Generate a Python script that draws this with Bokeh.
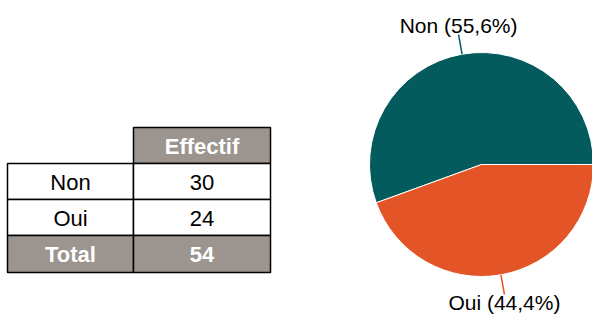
import math
from bokeh.plotting import figure
from bokeh.models import Range1d, ColumnDataSource
from bokeh.embed import file_html
from bokeh.resources import INLINE
from bokeh.core.properties import value

# ---- data ----
categories = ["Non", "Oui"]
counts = [30, 24]
header_label = "Effectif"
total_label = "Total"
slice_colors = ["#045B5D", "#E35427"]

total = sum(counts)
fractions = [c / total for c in counts]

# ---- figure (data units == screen pixels, y flipped) ----
W, H = 592, 315
def sy(s):
    return H - s

p = figure(width=W, height=H, output_backend="svg", toolbar_location=None,
           x_range=Range1d(0, W), y_range=Range1d(0, H),
           x_axis_type=None, y_axis_type=None, min_border=0)
p.grid.visible = False
p.outline_line_color = None
p.background_fill_color = "white"
p.border_fill_color = "white"

FONT = value("Liberation Sans")
GRAY = "#9C958F"

# ---- table ----
col_edges = [7, 133, 270]
row_h = 36
top0 = 127
lefts, rights, tops, bottoms, fills = [], [], [], [], []
lefts.append(col_edges[1]); rights.append(col_edges[2])
tops.append(sy(top0)); bottoms.append(sy(top0 + row_h)); fills.append(GRAY)
row_names = categories + [total_label]
row_vals = [str(c) for c in counts] + [str(total)]
for i, name in enumerate(row_names):
    t = top0 + row_h * (i + 1)
    b = t + row_h + (1 if i == len(row_names) - 1 else 0)
    fill = GRAY if name == total_label else "white"
    for j in range(2):
        lefts.append(col_edges[j]); rights.append(col_edges[j + 1])
        tops.append(sy(t)); bottoms.append(sy(b)); fills.append(fill)
p.quad(left=lefts, right=rights, top=tops, bottom=bottoms, fill_color=fills,
       line_color="black", line_width=1.5)

cx0 = (col_edges[0] + col_edges[1]) / 2
cx1 = (col_edges[1] + col_edges[2]) / 2
p.text(x=[cx1], y=[sy(top0 + row_h / 2 + 1)], text=[header_label],
       text_font=FONT, text_font_size="22px", text_font_style="bold",
       text_color="white", text_align="center", text_baseline="middle")
for i, name in enumerate(row_names):
    yc = sy(top0 + row_h * (i + 1) + row_h / 2 + 1)
    is_total = name == total_label
    col = "white" if is_total else "black"
    style = "bold" if is_total else "normal"
    p.text(x=[cx0, cx1], y=[yc, yc], text=[name, row_vals[i]],
           text_font=FONT, text_font_size="22px", text_font_style=style,
           text_color=col, text_align="center", text_baseline="middle")

# ---- pie ----
pcx, pcy, r = 481, sy(164), 112
starts, ends = [], []
acc = 0.0
for f in fractions:
    starts.append(acc * 2 * math.pi)
    acc += f
    ends.append(acc * 2 * math.pi)
src = ColumnDataSource(dict(start=starts, end=ends, color=slice_colors))
p.wedge(x=pcx, y=pcy, radius=r, start_angle="start", end_angle="end",
        direction="anticlock", fill_color="color", line_color="white",
        line_width=1, source=src)

for i, cat in enumerate(categories):
    mid = (starts[i] + ends[i]) / 2
    x1, y1 = pcx + r * math.cos(mid), pcy + r * math.sin(mid)
    x2, y2 = pcx + (r + 20) * math.cos(mid), pcy + (r + 20) * math.sin(mid)
    p.line(x=[x1, x2], y=[y1, y2], line_color=slice_colors[i], line_width=1.5)
    pct = f"{fractions[i] * 100:.1f}".replace(".", ",")
    label = f"{cat} ({pct}%)"
    up = math.sin(mid) > 0
    ly = y2 + 9 if up else y2 - 8
    p.text(x=[x2], y=[ly], text=[label],
           text_font=FONT, text_font_size="21px", text_color="black",
           text_align="center", text_baseline="middle")

open("out.html", "w").write(file_html(p, INLINE))
